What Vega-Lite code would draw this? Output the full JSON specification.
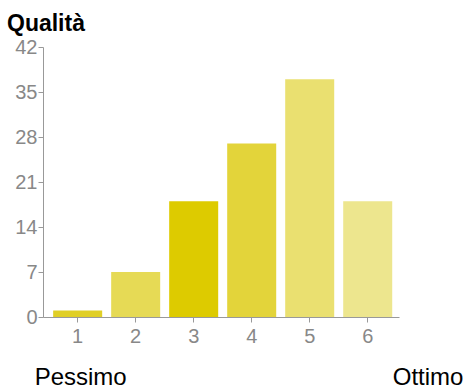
{
  "$schema": "https://vega.github.io/schema/vega-lite/v6.json",
  "width": 356,
  "height": 270,
  "autosize": {"type": "none"},
  "padding": {"left": 43, "top": 47, "right": 71, "bottom": 75},
  "background": "white",
  "title": {
    "text": "Qualità",
    "anchor": "start",
    "frame": "group",
    "font": "Liberation Sans",
    "fontSize": 23,
    "fontWeight": "bold",
    "color": "#000000",
    "dx": -36,
    "offset": 1
  },
  "config": {
    "view": {"stroke": null},
    "font": "Liberation Sans"
  },
  "layer": [
    {
      "data": {
        "values": [
          {"q": "1", "n": 1},
          {"q": "2", "n": 7},
          {"q": "3", "n": 18},
          {"q": "4", "n": 27},
          {"q": "5", "n": 37},
          {"q": "6", "n": 18}
        ]
      },
      "mark": {"type": "bar"},
      "encoding": {
        "x": {
          "field": "q",
          "type": "ordinal",
          "sort": null,
          "scale": {"paddingInner": 0.155, "paddingOuter": 0.146, "align": 0.6},
          "axis": {
            "title": null,
            "labelAngle": 0,
            "labelFontSize": 20,
            "labelColor": "#888888",
            "labelPadding": 4,
            "tickSize": 5,
            "tickColor": "#999999",
            "domainColor": "#999999",
            "grid": false
          }
        },
        "y": {
          "field": "n",
          "type": "quantitative",
          "scale": {"domain": [0, 42], "nice": false},
          "axis": {
            "title": null,
            "values": [0, 7, 14, 21, 28, 35, 42],
            "labelFontSize": 20,
            "labelColor": "#888888",
            "labelPadding": 1,
            "tickSize": 5,
            "tickColor": "#999999",
            "domainColor": "#999999",
            "grid": false
          }
        },
        "color": {
          "field": "q",
          "type": "nominal",
          "sort": null,
          "scale": {
            "domain": ["1", "2", "3", "4", "5", "6"],
            "range": ["#E0CF26", "#E6DA55", "#DDCB00", "#E3D43A", "#EAE070", "#EDE68E"]
          },
          "legend": null
        }
      }
    },
    {
      "data": {"values": [{"q": "1", "label": "Pessimo"}]},
      "mark": {"type": "text", "align": "center", "baseline": "alphabetic", "fontSize": 24, "color": "#000000", "dy": 68, "dx": 3},
      "encoding": {
        "x": {"field": "q", "type": "ordinal", "sort": null},
        "y": {"datum": 0},
        "text": {"field": "label"}
      }
    },
    {
      "data": {"values": [{"q": "6", "label": "Ottimo"}]},
      "mark": {"type": "text", "align": "left", "baseline": "alphabetic", "fontSize": 24, "color": "#000000", "dy": 68, "dx": 25},
      "encoding": {
        "x": {"field": "q", "type": "ordinal", "sort": null},
        "y": {"datum": 0},
        "text": {"field": "label"}
      }
    }
  ]
}
